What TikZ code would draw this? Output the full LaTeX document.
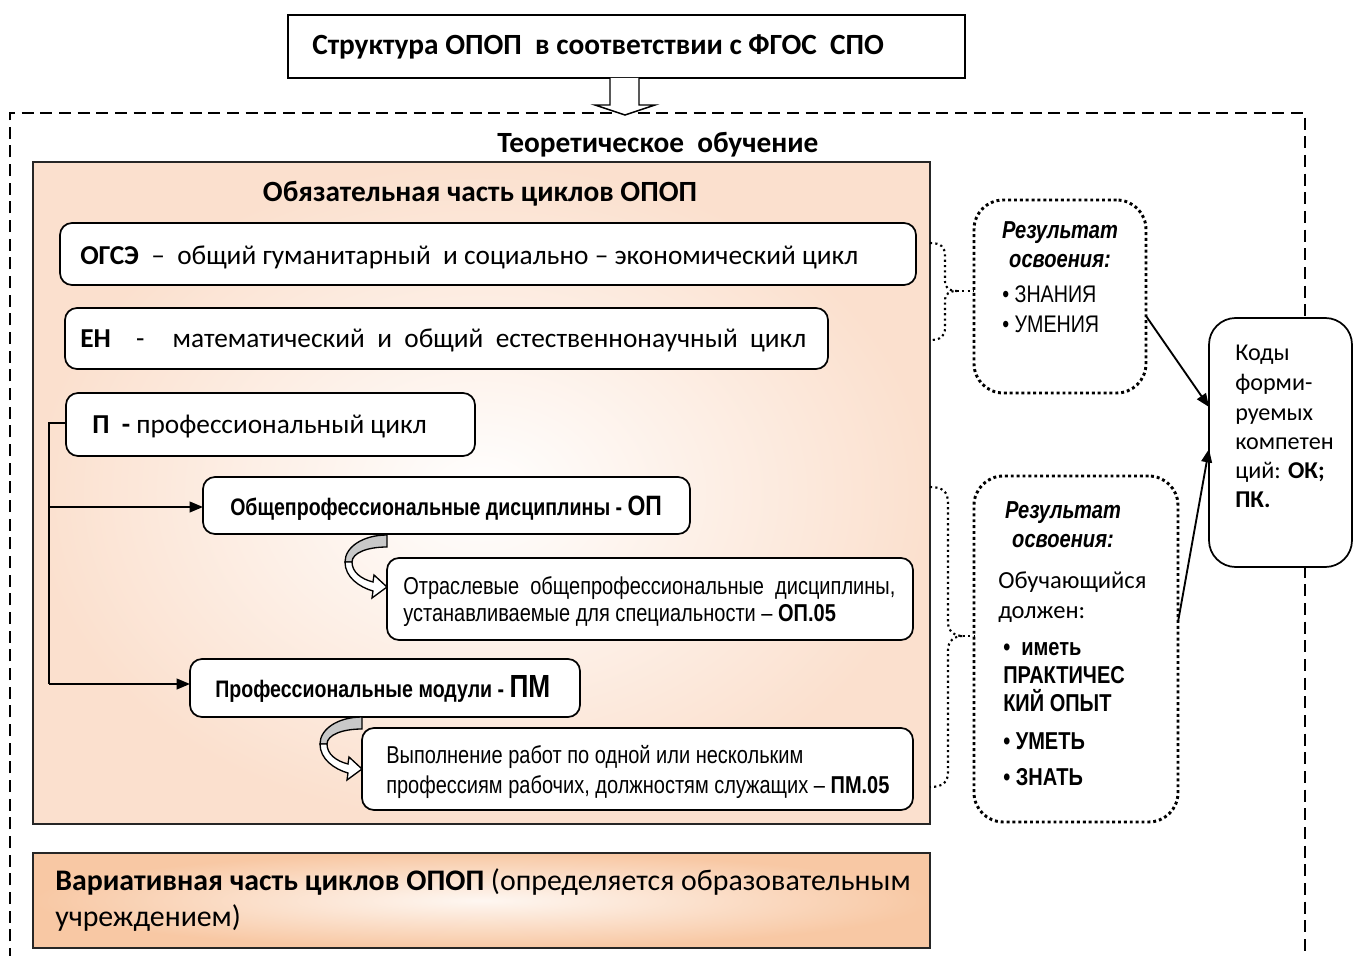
\documentclass[tikz,border=0pt]{standalone}
\usepackage{fontspec}
\setmainfont{Carlito}
\newfontfamily\nar[FakeStretch=0.82]{Liberation Sans}
\usetikzlibrary{arrows.meta}
\definecolor{peach}{RGB}{251,224,206}
\definecolor{peachd}{RGB}{248,200,164}
\definecolor{bandgray}{RGB}{200,200,200}
\tikzset{
  box/.style={draw=black, line width=1.3pt, rounded corners=9pt, fill=white},
  plainbox/.style={draw=black, line width=1.3pt, fill=white},
  orangebox/.style={draw=black!85, line width=1.5pt, inner color=white, outer color=peach},
  varbox/.style={draw=black!85, line width=1.5pt, inner color=white!85!peachd, outer color=peachd},
  dotbox/.style={draw=black, line width=2.2pt, dash pattern=on 2.2pt off 2.2pt, rounded corners=22pt, fill=white},
  kodbox/.style={draw=black, line width=1.3pt, rounded corners=20pt, fill=white},
  dotb/.style={draw=black, line width=1.6pt, dash pattern=on 1.6pt off 2.4pt},
  outer/.style={draw=black, line width=1.1pt, dash pattern=on 9pt off 5pt},
  conn/.style={draw=black, line width=1.4pt},
  arr/.style={draw=black, line width=1.4pt, -{Triangle[length=10pt,width=8pt]}},
  ft/.style={font=\fontsize{22}{26}\selectfont\bfseries},
  fc/.style={font=\fontsize{20.5}{24}\selectfont},
  fv/.style={font=\fontsize{22.4}{26}\selectfont},
  fn/.style={font=\nar\fontsize{18.3}{21}\selectfont},
  fnb/.style={font=\nar\fontsize{17.9}{21}\selectfont\bfseries},
  fnr/.style={font=\nar\fontsize{18}{21}\selectfont},
  fnr2/.style={font=\nar\fontsize{18.3}{21}\selectfont\bfseries},
  fres/.style={font=\nar\fontsize{18.4}{21}\selectfont\bfseries\itshape},
  fk/.style={font=\fontsize{18.4}{22}\selectfont},
  fk2/.style={font=\fontsize{18.1}{22}\selectfont},
}
% box from corners (x1,y1)-(x2,y2) in pixels
\newcommand\bx[6][]{\node[#1, inner sep=0pt, outer sep=0pt, minimum width={(#5-#3)*0.75pt}, minimum height={(#6-#4)*0.75pt}, anchor=north west] (#2) at (#3,#4) {};}
% text line: name, x, baseline y, text
\newcommand\tl[5][]{\node[anchor=base west, inner sep=0pt, #1] (#2) at (#3,#4) {#5};}
\newcommand\tc[5][]{\node[anchor=base, inner sep=0pt, #1] (#2) at (#3,#4) {#5};}
\newcommand\curvarrow[2]{%
  \begin{scope}[shift={(#1,#2)}]
    \draw[line width=1pt, fill=bandgray] (42,0) .. controls (18,0) and (0,12) .. (0,27) -- (7,27) .. controls (7,18) and (22,12) .. (42,12) -- cycle;
    \draw[line width=1pt, fill=white] (0,27) .. controls (0,42) and (14,52) .. (28,56) -- (27,63) -- (42,52) -- (29,40) -- (28,47) .. controls (16,44) and (7,37) .. (7,27) -- cycle;
  \end{scope}}
\begin{document}
\begin{tikzpicture}[x=0.75pt,y=-0.75pt]
\useasboundingbox[fill=white] (0,0) rectangle (1354,956);
% outer dashed frame
\draw[outer] (10,960) -- (10,113) -- (1305,113) -- (1305,960);
% title
\bx[plainbox]{title}{288}{15}{965}{78}
\tl[ft]{titletext}{312}{55}{Структура ОПОП\ \ в соответствии с ФГОС\ \ СПО}
% hollow arrow
\draw[line width=1.1pt, fill=white] (610,78) -- (610,105) -- (595,105) -- (625,115) -- (655,105) -- (639,105) -- (639,78);
\tl[ft]{theory}{497}{152}{Теоретическое\ \ обучение}
% main orange box
\bx[orangebox]{main}{33}{162}{930}{824}
\tc[ft]{oblig}{480}{201}{Обязательная часть циклов ОПОП}
% OGSE
\bx[box]{ogse}{60}{223}{916}{285}
\tl[fc]{ogsetext}{80}{264}{\textbf{ОГСЭ}\ \ – \ общий гуманитарный\ \ и социально – экономический цикл}
% EN
\bx[box]{en}{65}{308}{828}{369}
\tl[fc]{entext}{80}{347}{\textbf{ЕН}\hspace{19pt}-\hspace{21pt}математический\ \ и\ \ общий\ \ естественнонаучный\ \ цикл}
% P
\bx[box]{p}{66}{393}{475}{456}
\tl[fc]{ptext}{92}{433}{\textbf{П}\ \ \textbf{-} профессиональный цикл}
% OP
\bx[box]{op}{203}{477}{690}{534}
\tl[fnb]{optext}{230}{515}{Общепрофессиональные дисциплины - {\fontsize{21}{22}\selectfont ОП}}
% OP.05
\bx[box]{op5}{387}{558}{913}{640}
\tl[fn]{op5a}{403}{594}{Отраслевые\ \ общепрофессиональные\ \ дисциплины,}
\tl[fn]{op5b}{403}{621}{устанавливаемые для специальности – \textbf{ОП.05}}
% PM
\bx[box]{pm}{190}{659}{580}{717}
\tl[fnb]{pmtext}{215}{697}{Профессиональные модули - {\fontsize{24}{25}\selectfont ПМ}}
% PM.05
\bx[box]{pm5}{362}{728}{913}{810}
\tl[fn]{pm5a}{386}{763}{Выполнение работ по одной или нескольким}
\tl[fn]{pm5b}{386}{793}{профессиям рабочих, должностям служащих – \textbf{ПМ.05}}
% curved arrows
\curvarrow{345}{535}
\curvarrow{320}{717}
% bracket connectors
\coordinate (brtop) at (49,423);
\coordinate (brbot) at (49,684);
\coordinate (brmid) at (49,507);
\draw[conn] (p.west |- brtop) -- (brtop) -- (brbot);
\draw[arr] (brmid) -- (op.west |- brmid);
\draw[arr] (brbot) -- (pm.west |- brbot);
% variative box
\bx[varbox]{var}{33}{853}{930}{948}
\tl[fv]{var1}{55}{890}{\textbf{Вариативная часть циклов ОПОП} (определяется образовательным}
\tl[fv]{var2}{55}{926}{учреждением)}
% result boxes
\bx[dotbox]{r1}{974}{200}{1146}{393}
\tc[fres]{r1a}{1060}{238}{Результат}
\tc[fres]{r1b}{1060}{267}{освоения:}
\tl[fnr]{r1c}{1002}{302}{• ЗНАНИЯ}
\tl[fnr]{r1d}{1002}{332}{• УМЕНИЯ}
\bx[dotbox]{r2}{974}{476}{1178}{822}
\tc[fres]{r2a}{1063}{518}{Результат}
\tc[fres]{r2b}{1063}{547}{освоения:}
\tl[fk]{r2c}{998}{588}{Обучающийся}
\tl[fk]{r2d}{998}{618}{должен:}
\tl[fnr2]{r2e}{1003}{655}{•\ \ иметь}
\tl[fnr2]{r2f}{1003}{683}{ПРАКТИЧЕС}
\tl[fnr2]{r2g}{1003}{711}{КИЙ ОПЫТ}
\tl[fnr2]{r2h}{1003}{749}{•\ УМЕТЬ}
\tl[fnr2]{r2i}{1003}{785}{•\ ЗНАТЬ}
% braces
\coordinate (t1) at (957,291);
\draw[dotb] (930,243) .. controls (941,243) and (945,247) .. (945,256) -- (945,281) .. controls (945,288) and (949,291) .. (t1) .. controls (949,291) and (945,294) .. (945,301) -- (945,328) .. controls (945,336) and (941,340) .. (930,340);
\draw[dotb] (t1) -- (r1.west |- t1);
\coordinate (t2) at (963,636);
\draw[dotb] (930,487) .. controls (943,487) and (948,492) .. (948,503) -- (948,622) .. controls (948,631) and (954,636) .. (t2) .. controls (954,636) and (948,641) .. (948,650) -- (948,772) .. controls (948,782) and (943,787) .. (930,787);
\draw[dotb] (t2) -- (r2.west |- t2);
% codes box
\bx[kodbox]{kod}{1209}{318}{1352}{567}
\tl[fk2]{k1}{1235}{360}{Коды}
\tl[fk2]{k2}{1235}{390}{форми-}
\tl[fk2]{k3}{1235}{420}{руемых}
\tl[fk2]{k4}{1235}{449}{компетен}
\tl[fk2]{k5}{1235}{478}{ций: \textbf{ОК;}}
\tl[fk2]{k6}{1235}{507}{\textbf{ПК.}}
% arrows to codes
\coordinate (a1s) at (1146,316);
\coordinate (a1e) at (1209,407);
\coordinate (a2s) at (1178,622);
\coordinate (a2e) at (1209,449);
\draw[arr] (r1.east |- a1s) -- (kod.west |- a1e);
\draw[arr] (r2.east |- a2s) -- (kod.west |- a2e);
\end{tikzpicture}
\end{document}
